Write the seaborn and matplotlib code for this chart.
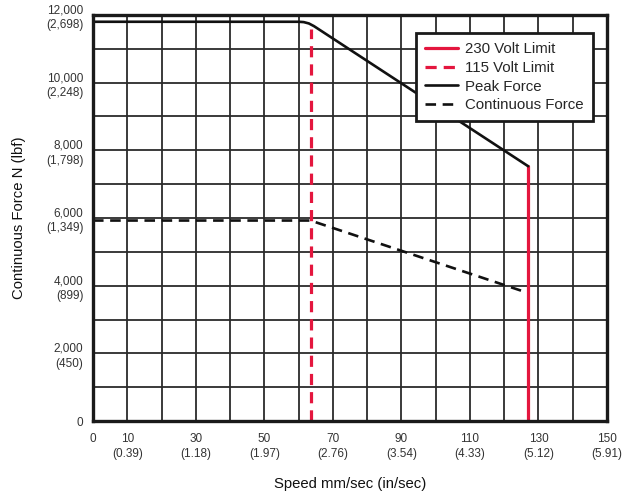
import matplotlib
matplotlib.use("Agg")
import matplotlib.pyplot as plt
import seaborn as sns
import pandas as pd

# ---- data ----
x_ticks = [0, 10, 30, 50, 70, 90, 110, 130, 150]
x_tick_labels = ["0", "10\n(0.39)", "30\n(1.18)", "50\n(1.97)", "70\n(2.76)",
                 "90\n(3.54)", "110\n(4.33)", "130\n(5.12)", "150\n(5.91)"]
y_ticks = [0, 2000, 4000, 6000, 8000, 10000, 12000]
y_tick_labels = ["0", "2,000\n(450)", "4,000\n(899)", "6,000\n(1,349)",
                 "8,000\n(1,798)", "10,000\n(2,248)", "12,000\n(2,698)"]

peak_speed = [0, 60, 61.5, 63, 64.5, 127]
peak_force = [11800, 11800, 11790, 11750, 11670, 7530]
cont_speed = [0, 63.5, 126.5]
cont_force = [5925, 5925, 3800]
v230_speed = [126.9, 126.9]
v230_force = [0, 7530]
v115_speed = [63.5, 63.5]
v115_force = [0, 11600]

RED = "#e4163e"

sns.set_theme(style="white")
plt.rcParams["font.family"] = ["Liberation Sans", "DejaVu Sans"]

fig = plt.figure(figsize=(6.24, 4.98), dpi=100)
ax = fig.add_axes([93/624, 1-421/498, (607-93)/624, (421-15)/498])

df_peak = pd.DataFrame({"s": peak_speed, "f": peak_force})
df_cont = pd.DataFrame({"s": cont_speed, "f": cont_force})
df_230 = pd.DataFrame({"s": v230_speed, "f": v230_force})
df_115 = pd.DataFrame({"s": v115_speed, "f": v115_force})

sns.lineplot(data=df_230, x="s", y="f", ax=ax, color=RED, lw=2.3,
             estimator=None, sort=False, label="230 Volt Limit")
sns.lineplot(data=df_115, x="s", y="f", ax=ax, color=RED, lw=2.3,
             estimator=None, sort=False, label="115 Volt Limit")
ax.lines[-1].set_dashes((3.5, 2.2))
sns.lineplot(data=df_peak, x="s", y="f", ax=ax, color="#111111", lw=1.9,
             estimator=None, sort=False, label="Peak Force")
sns.lineplot(data=df_cont, x="s", y="f", ax=ax, color="#111111", lw=1.9,
             estimator=None, sort=False, label="Continuous Force")
ax.lines[-1].set_dashes((4, 2.5))

ax.set_xlim(0, 150)
ax.set_ylim(0, 12000)
ax.set_xticks(x_ticks)
ax.set_xticklabels(x_tick_labels, fontsize=8.5, color="#333333", linespacing=1.3)
ax.set_yticks(y_ticks)
ax.set_yticklabels(y_tick_labels, fontsize=8.5, color="#333333",
                   multialignment="right", linespacing=1.3)
ax.set_xticks(range(0, 151, 10), minor=True)
ax.set_yticks(range(0, 12001, 1000), minor=True)
ax.grid(which="both", color="#2b2b2b", linewidth=1.3)
ax.set_axisbelow(True)
ax.tick_params(axis="both", which="both", length=0)
ax.tick_params(axis="x", pad=9)
ax.tick_params(axis="y", pad=7)
for t in ax.get_xticklabels():
    t.set_verticalalignment("top")

ax.set_xlabel("Speed mm/sec (in/sec)", fontsize=10.7, color="#111111", labelpad=12)
ax.set_ylabel("Continuous Force N (lbf)", fontsize=10.7, color="#111111", labelpad=14)

for s in ax.spines.values():
    s.set_visible(True)
    s.set_color("#1a1a1a")
    s.set_linewidth(2.4)

leg = ax.legend(loc="upper right", bbox_to_anchor=(593/624, 1-33/498),
                bbox_transform=fig.transFigure, fontsize=10.8, frameon=True,
                fancybox=False, edgecolor="#1a1a1a", handlelength=2.2,
                handletextpad=0.5, borderpad=0.6, labelspacing=0.32,
                borderaxespad=0)
leg.get_frame().set_linewidth(2)
leg.get_frame().set_alpha(1)

fig.savefig("out.png", dpi=100)
